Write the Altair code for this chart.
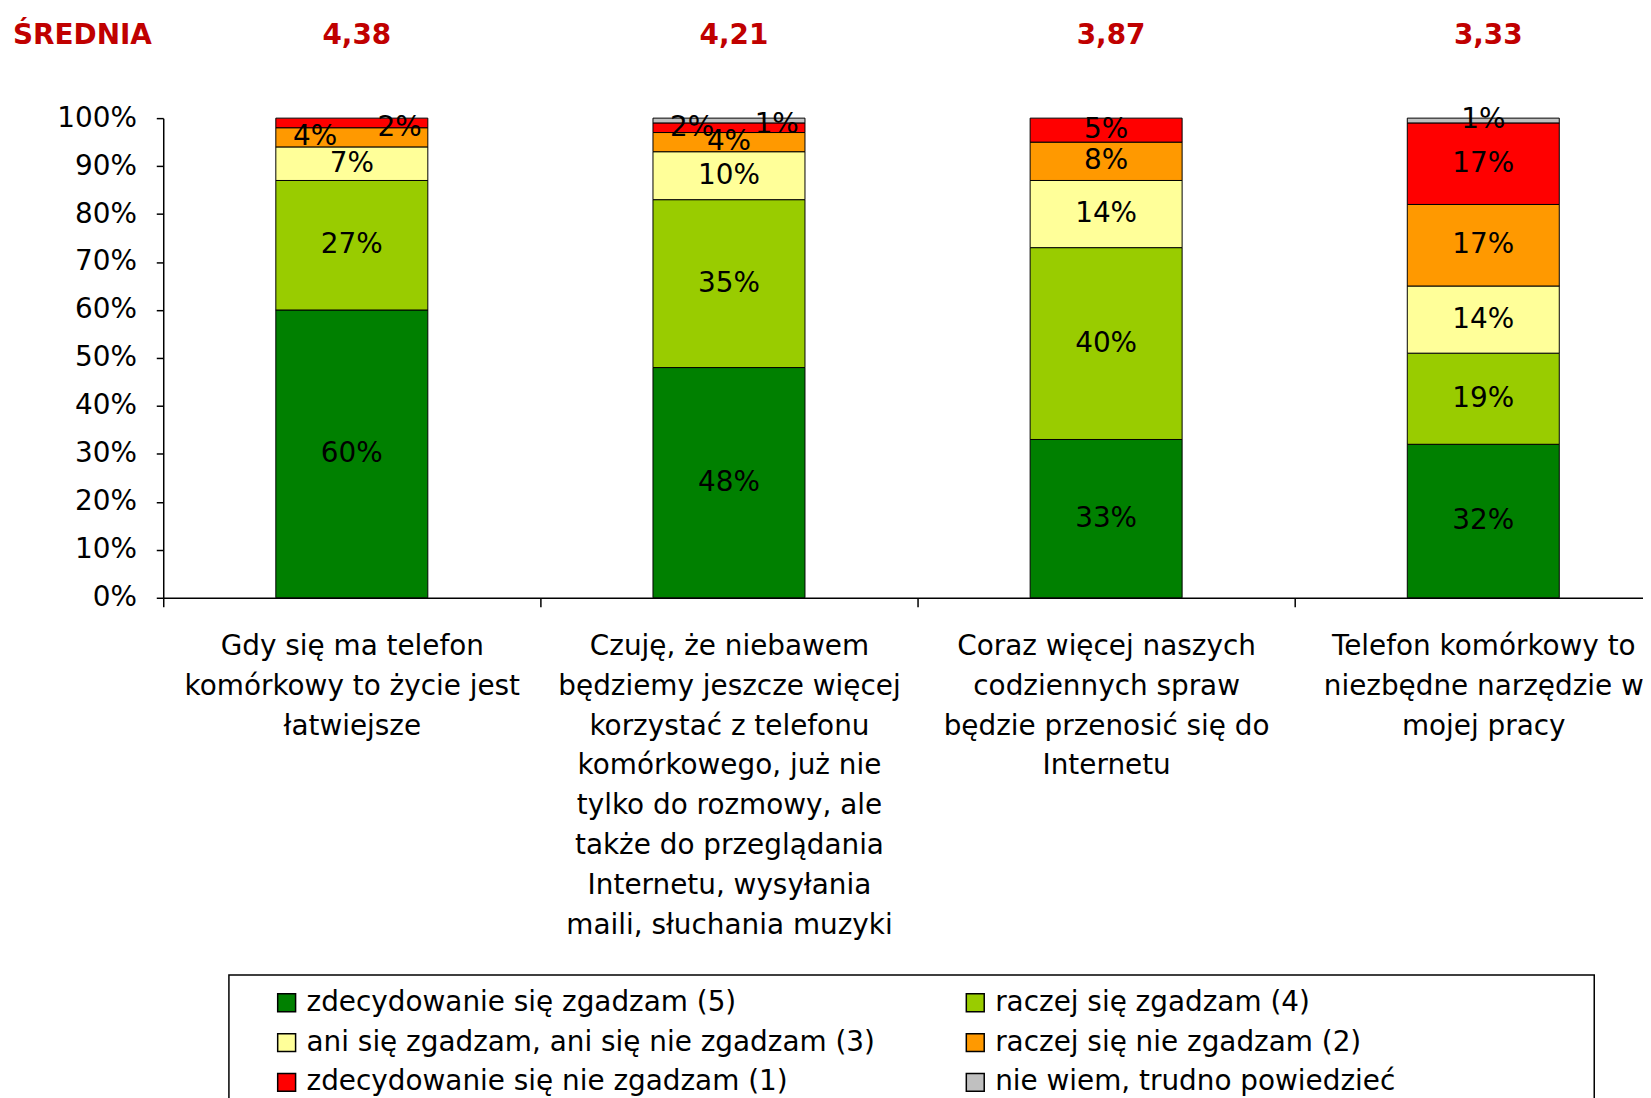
import altair as alt
import pandas as pd

CATEGORIES = [
    "Gdy się ma telefon|komórkowy to życie jest|łatwiejsze",
    "Czuję, że niebawem|będziemy jeszcze więcej|korzystać z telefonu|komórkowego, już nie|tylko do rozmowy, ale|także do przeglądania|Internetu, wysyłania|maili, słuchania muzyki",
    "Coraz więcej naszych|codziennych spraw|będzie przenosić się do|Internetu",
    "Telefon komórkowy to|niezbędne narzędzie w|mojej pracy",
]
SERIES = [
    "zdecydowanie się zgadzam (5)",
    "raczej się zgadzam (4)",
    "ani się zgadzam, ani się nie zgadzam (3)",
    "raczej się nie zgadzam (2)",
    "zdecydowanie się nie zgadzam (1)",
    "nie wiem, trudno powiedzieć",
]
COLORS = ["#008000", "#99CC00", "#FFFF99", "#FF9900", "#FF0000", "#C0C0C0"]
S5 = [60, 48, 33, 32]
S4 = [27, 35, 40, 19]
S3 = [7, 10, 14, 14]
S2 = [4, 4, 8, 17]
S1 = [2, 2, 5, 17]
SNW = [0, 1, 0, 1]
MEANS = ["4,38", "4,21", "3,87", "3,33"]
MEAN_TITLE = "ŚREDNIA"

series_values = [S5, S4, S3, S2, S1, SNW]
rows = []
for si, (s, vals) in enumerate(zip(SERIES, series_values)):
    for ci, c in enumerate(CATEGORIES):
        rows.append({"cat": c, "ci": ci, "series": s, "ord": si, "value": vals[ci],
                     "label": f"{vals[ci]}%"})
df = pd.DataFrame(rows)
df_means = pd.DataFrame({"cat": CATEGORIES, "mean": MEANS})

FONT = "DejaVu Sans"
W = 1487
H = 482
RANGE_END = 1516
HALF_STEP = RANGE_END / 8

x_scale = alt.Scale(domain=CATEGORIES, range=[0, RANGE_END], paddingInner=0.597, paddingOuter=0.2985)

x_enc = alt.X(
    "cat:N", sort=CATEGORIES, scale=x_scale,
    axis=alt.Axis(title=None, labelExpr="split(datum.label, '|')", labelAngle=0,
                  tickOffset=-HALF_STEP, labelOffset=HALF_STEP,
                  tickSize=9, tickColor="black", domainColor="black",
                  domainWidth=1.5, tickWidth=1.5, labelPadding=26, labelLineHeight=40,
                  labelBaseline="top", labelLimit=0, labelFontSize=28, labelColor="black",
                  labelFont=FONT, grid=False),
)
x_plain = alt.X("cat:N", sort=CATEGORIES)
y_scale = alt.Scale(domain=[0, 100], nice=False)

base = alt.Chart(df).transform_filter("datum.value > 0")

bars = base.mark_bar(stroke="black", strokeWidth=1).encode(
    x=x_enc,
    y=alt.Y("value:Q", stack="zero", scale=y_scale,
            axis=alt.Axis(title=None, values=list(range(0, 101, 10)),
                          labelExpr="datum.value + '%'", tickSize=7, tickColor="black",
                          domainColor="black", domainWidth=1.5, tickWidth=1.5,
                          labelPadding=20, labelFontSize=28, labelColor="black",
                          labelFont=FONT, grid=False)),
    color=alt.Color("series:N", scale=alt.Scale(domain=SERIES, range=COLORS),
                    legend=alt.Legend(orient="none", legendX=110, legendY=875, columns=2,
                                      direction="horizontal",
                                      title=None, symbolType="square", symbolSize=324,
                                      symbolStrokeColor="black", symbolStrokeWidth=1.5,
                                      labelFontSize=28, labelFont=FONT, labelColor="black",
                                      labelLimit=0, rowPadding=12, columnPadding=86,
                                      labelOffset=6, padding=0)),
    order=alt.Order("ord:Q", sort="ascending"),
)

stacked = base.transform_stack(
    stack="value", groupby=["cat"], as_=["v0", "v1"],
    sort=[alt.SortField("ord", order="ascending")]
).transform_calculate(mid="(datum.v0 + datum.v1) / 2")

left_cond = "(datum.ci == 0 && datum.ord == 3) || (datum.ci == 1 && datum.ord == 4)"
right_cond = "(datum.ci == 0 && datum.ord == 4) || (datum.ci == 1 && datum.ord == 5)"

txt_kw = dict(fontSize=28, font=FONT, color="black", baseline="middle")
lab_enc = dict(x=x_plain, y=alt.Y("mid:Q", scale=y_scale), text="label:N")

labels_c = stacked.transform_filter(f"!({left_cond}) && !({right_cond})").mark_text(**txt_kw).encode(**lab_enc)
labels_l = stacked.transform_filter(left_cond).mark_text(dx=-37, **txt_kw).encode(**lab_enc)
labels_r = stacked.transform_filter(right_cond).mark_text(dx=48, dy=5, **txt_kw).encode(**lab_enc)

means = alt.Chart(df_means).mark_text(fontSize=28, font=FONT, fontWeight="bold", color="#C00000",
                                      baseline="middle", dx=5).encode(
    x=x_plain, y=alt.value(-82), text="mean:N")

one = pd.DataFrame({"t": [MEAN_TITLE]})
title_txt = alt.Chart(one).mark_text(fontSize=28, font=FONT, fontWeight="bold", color="#C00000",
                                     baseline="middle", align="left").encode(
    x=alt.value(-151), y=alt.value(-82), text="t:N")

frame = alt.Chart(one).mark_rect(fill="white", fillOpacity=0, stroke="black", strokeWidth=1.5).encode(
    x=alt.value(66), x2=alt.value(1438), y=alt.value(861), y2=alt.value(1100))

chart = alt.layer(frame, bars, labels_c, labels_l, labels_r, means, title_txt).properties(
    width=W, height=H,
    autosize=alt.AutoSizeParams(type="none"),
    padding={"left": 156, "top": 108, "right": 0, "bottom": 500},
).configure(font=FONT).configure_view(stroke=None)

chart.save("out.html", embed_options={"renderer": "svg", "actions": False})
